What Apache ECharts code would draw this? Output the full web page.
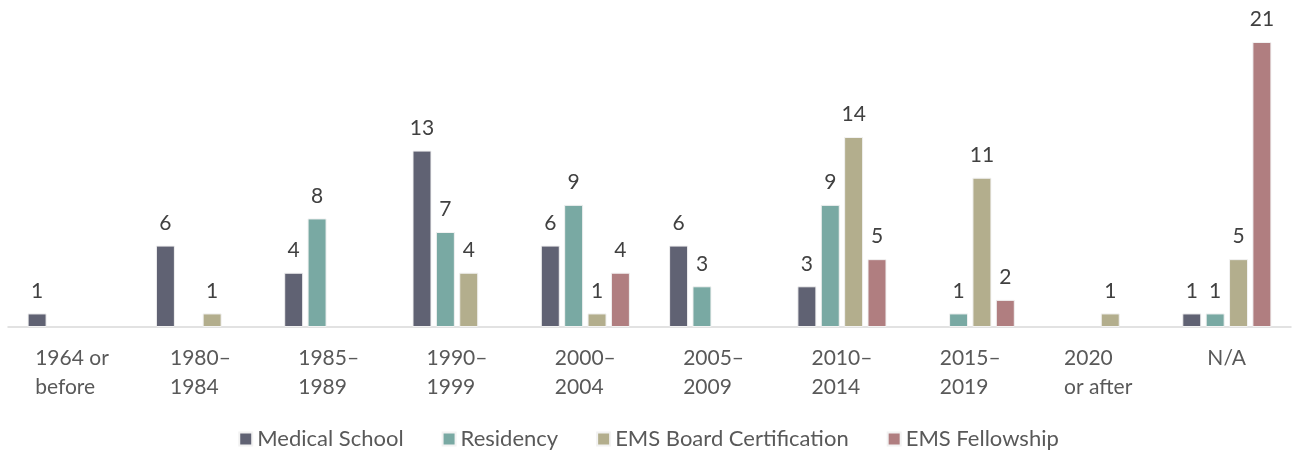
<!DOCTYPE html>
<html>
<head>
<meta charset="utf-8">
<script src="https://cdn.jsdelivr.net/npm/echarts@6/dist/echarts.min.js"></script>
<style>
  html, body { margin: 0; padding: 0; background: #fff; }
  #main { width: 1297px; height: 457px; }
</style>
</head>
<body>
<div id="main"></div>
<script>
// periods on the x axis
const periods = ['1964 or\nbefore', '1980–\n1984', '1985–\n1989', '1990–\n1999', '2000–\n2004',
                 '2005–\n2009', '2010–\n2014', '2015–\n2019', '2020\nor after', 'N/A']

// counts per series (null = no bar)
const medicalSchool  = [1, 6, 4, 13, 6, 6, 3, null, null, 1]
const residency      = [null, null, 8, 7, 9, 3, 9, 1, null, 1]
const boardCert      = [null, 1, null, 4, 1, null, 14, 11, 1, 5]
const emsFellowship  = [null, null, null, null, 4, null, 5, 2, null, 21]

const FONT = 'Lato, "Open Sans", sans-serif'
const LABEL_SIZE = 21

// lines of each axis label are left aligned inside a centred block,
// so give every label a rich style as wide as its longest line
const ctx = document.createElement('canvas').getContext('2d')
ctx.font = LABEL_SIZE + 'px ' + FONT
const labelRich = {}
periods.forEach(function (p, i) {
   const w = Math.max.apply(null, p.split('\n').map(function (s) { return ctx.measureText(s).width }))
   labelRich['c' + i] = {
      width: Math.ceil(w),
      align: 'left',
      color: '#595959',
      fontFamily: FONT,
      fontSize: LABEL_SIZE,
      lineHeight: 29
   }
})

function makeSeries(name, data, color) {
   return {
      name: name,
      type: 'bar',
      data: data,
      barWidth: 19,
      barGap: '23%',
      itemStyle: {
         color: color,
         borderColor: '#f2f2f2',
         borderWidth: 1
      },
      label: {
         show: true,
         position: 'top',
         distance: 12,
         color: '#404040',
         fontFamily: FONT,
         fontSize: LABEL_SIZE
      }
   }
}

let myChart = echarts.init(document.getElementById('main'))

myChart.setOption({
   animation: false,
   grid: {
      left: 8,
      right: 6,
      top: 42,
      bottom: 130
   },
   legend: {
      bottom: 2,
      left: 'center',
      itemWidth: 13,
      itemHeight: 13,
      itemGap: 38,
      icon: 'rect',
      textStyle: {
         color: '#595959',
         fontFamily: FONT,
         fontSize: 22
      },
      data: ['Medical School', 'Residency', 'EMS Board Certification', 'EMS Fellowship']
   },
   xAxis: {
      type: 'category',
      data: periods,
      axisLine: { lineStyle: { color: '#d9d9d9', width: 1.5 } },
      axisTick: { show: false },
      axisLabel: {
         margin: 17,
         verticalAlign: 'top',
         interval: 0,
         formatter: function (value, idx) {
            return value.split('\n').map(function (s) { return '{c' + idx + '|' + s + '}' }).join('\n')
         },
         rich: labelRich
      }
   },
   yAxis: {
      type: 'value',
      min: 0,
      max: 21,
      show: false,
      splitLine: { show: false }
   },
   series: [
      makeSeries('Medical School', medicalSchool, '#606273'),
      makeSeries('Residency', residency, '#79a9a3'),
      makeSeries('EMS Board Certification', boardCert, '#b3ae8d'),
      makeSeries('EMS Fellowship', emsFellowship, '#b07e80')
   ]
})
</script>
</body>
</html>
